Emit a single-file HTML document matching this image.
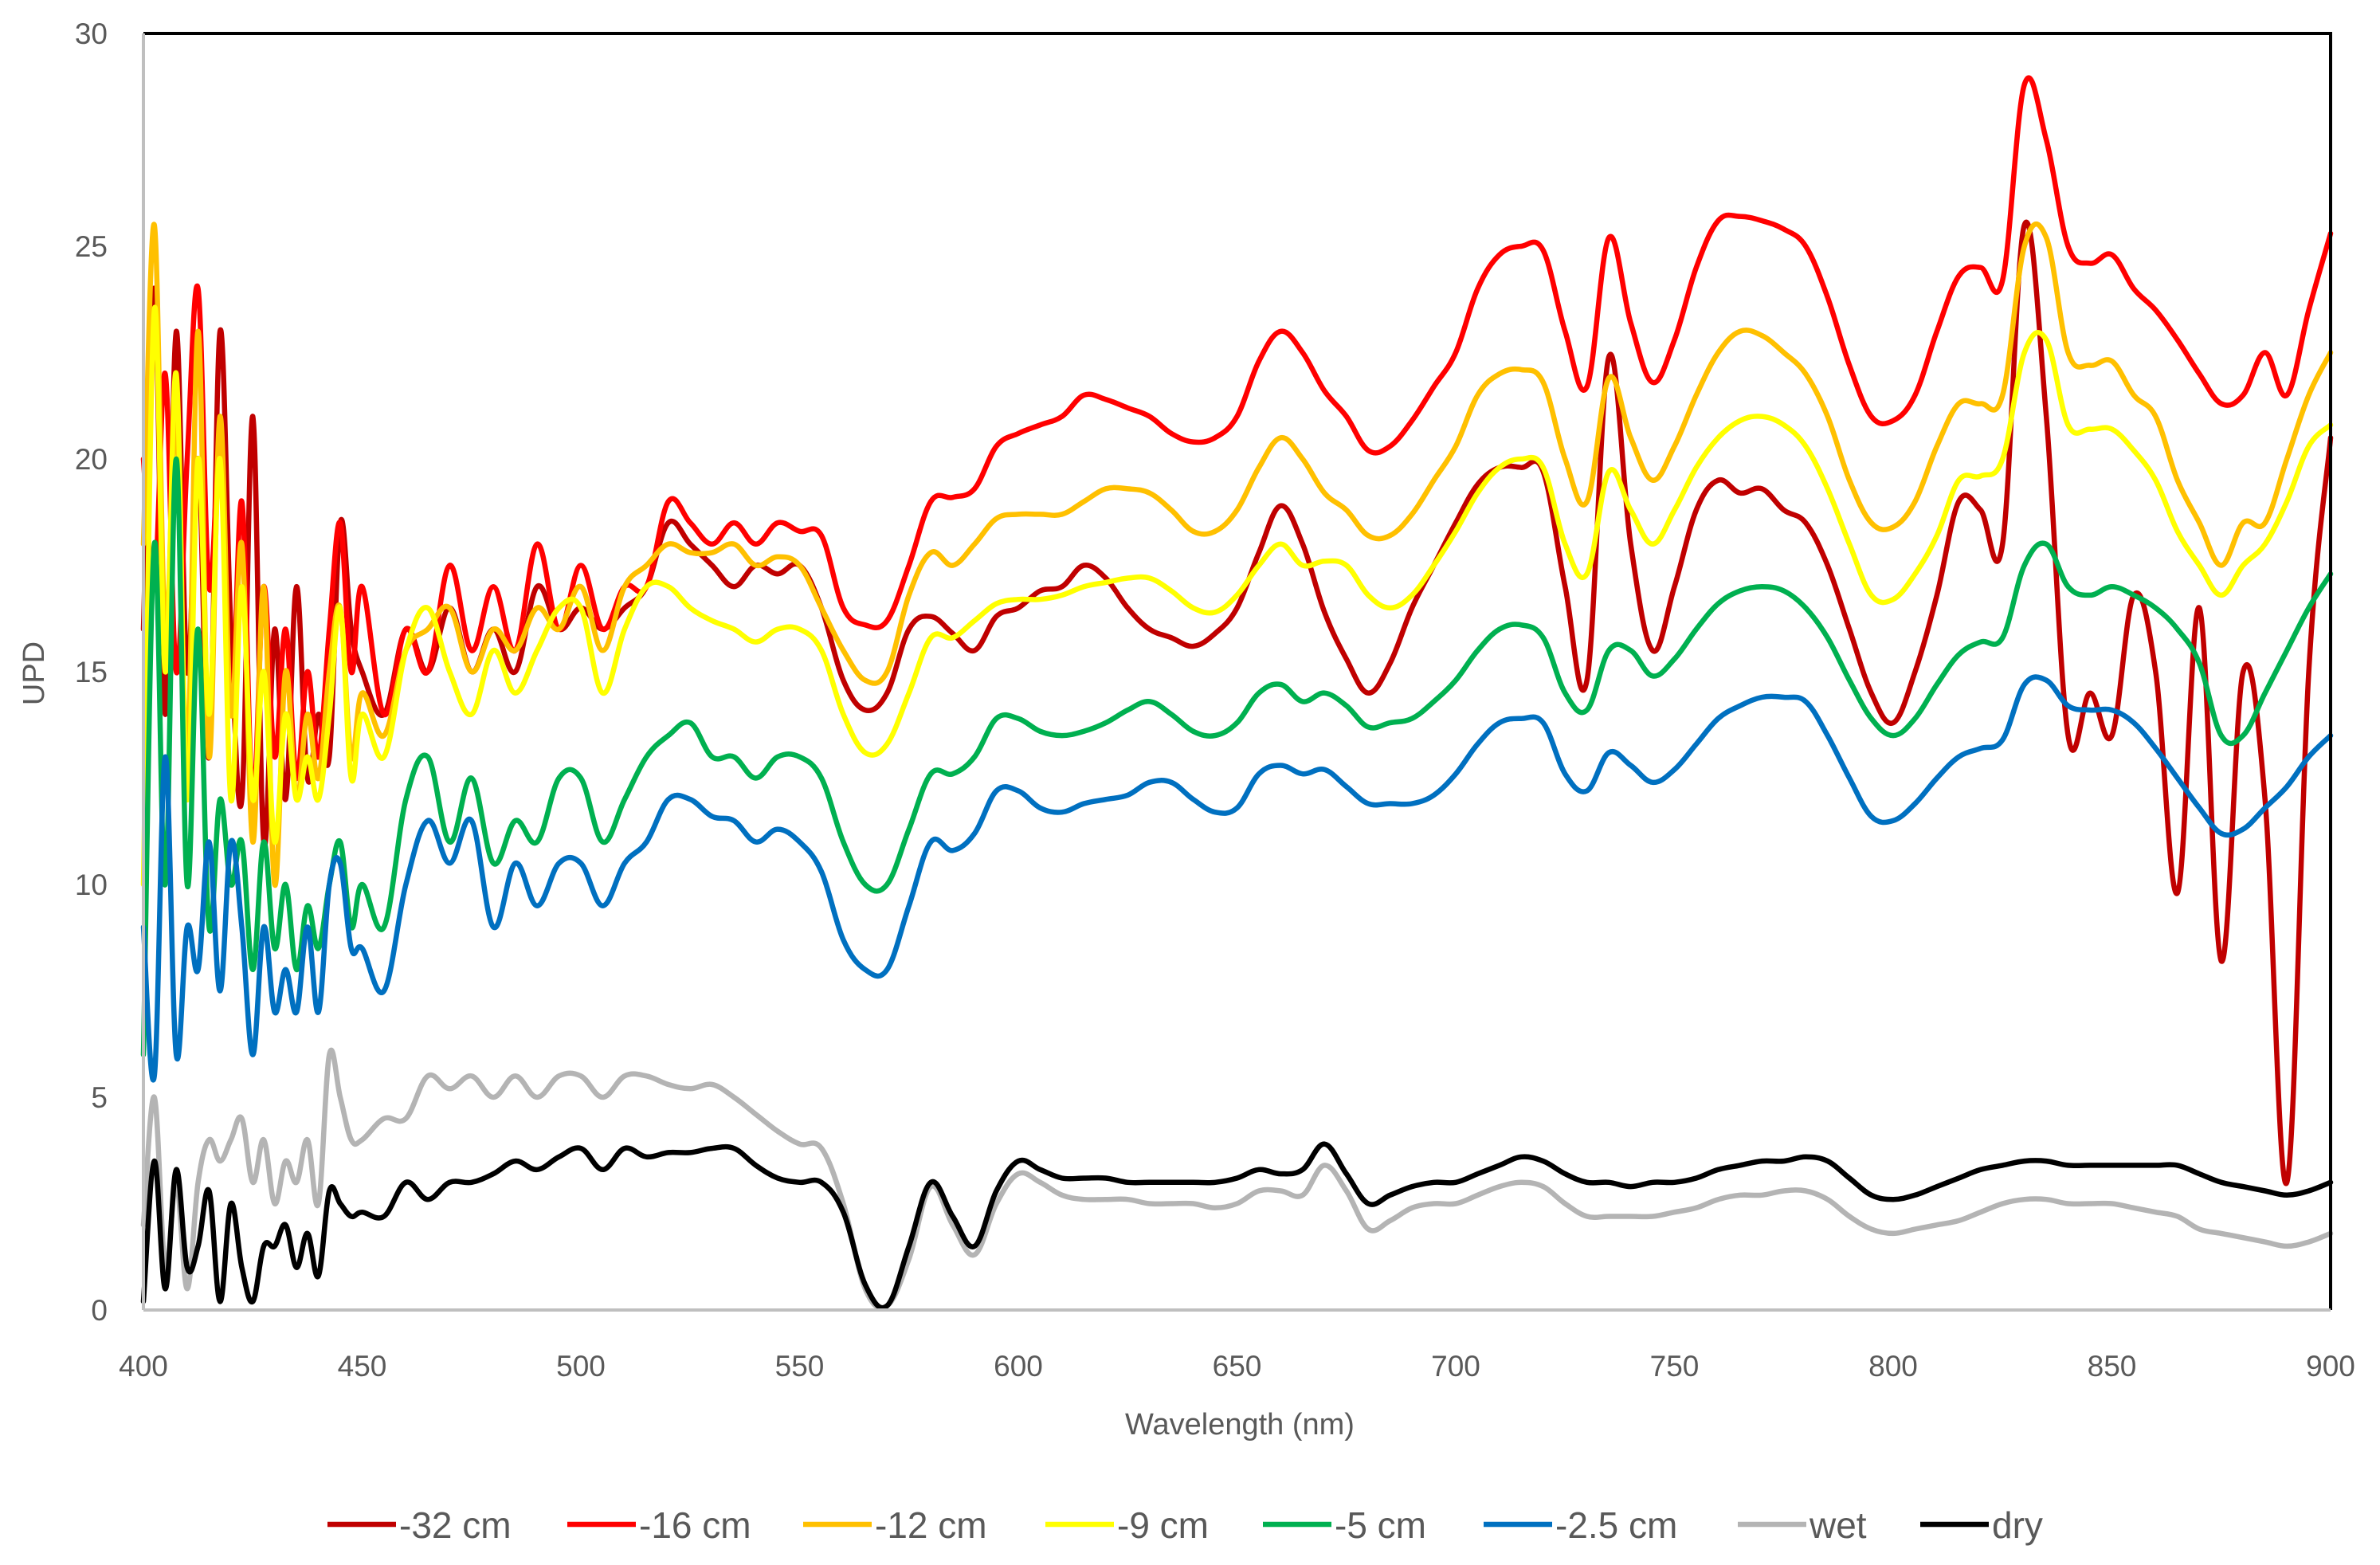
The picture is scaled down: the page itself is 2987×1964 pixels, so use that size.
<!DOCTYPE html>
<html><head><meta charset="utf-8"><style>
html,body{margin:0;padding:0;background:#fff;}
svg{display:block;font-family:"Liberation Sans",sans-serif;}
</style></head><body>
<svg id="chart" width="2987" height="1964" viewBox="0 0 2987 1964" xmlns="http://www.w3.org/2000/svg">
<rect x="0" y="0" width="2987" height="1964" fill="#fff"/>
<g id="plot"></g>
<g id="axes"></g>
<g id="legend"></g>
</svg>
<script>
const xTicks = [400,450,500,550,600,650,700,750,800,850,900];
const yTicks = [0,5,10,15,20,25,30];
const seriesNames = ["-32 cm","-16 cm","-12 cm","-9 cm","-5 cm","-2.5 cm","wet","dry"];
const seriesColors = ["#C00000","#FF0000","#FFC000","#FFFF00","#00B050","#0070C0","#B4B4B4","#000000"];
const wavelengthsFine = [400,402.5,405,407.5,410,412.5,415,417.5,420,422.5,425,427.5,430,432.5,435,437.5,440,442.5,445,447.5,450];
const wavelengthsCoarse = [455,460,465,470,475,480,485,490,495,500,505,510,515,520,525,530,535,540,545,550,555,560,565,570,575,580,585,590,595,600,605,610,615,620,625,630,635,640,645,650,655,660,665,670,675,680,685,690,695,700,705,710,715,720,725,730,735,740,745,750,755,760,765,770,775,780,785,790,795,800,805,810,815,820,825,830,835,840,845,850,855,860,865,870,875,880,885,890,895,900];
const s32 = [16,24,14,23,15,20,13,23,16,12,21,11,16,12,17,12.5,14,13,18.5,16,15,
14,16,15,16.5,15,16,15,17,16,16.5,16,16.5,17,18.5,18,17.5,17,17.5,17.3,17.5,16.5,14.8,14.1,14.5,16,16.3,15.9,15.5,16.3,16.5,16.9,17,17.5,17.2,16.5,16,15.8,15.6,15.9,16.5,17.8,18.9,18,16.4,15.3,14.5,15.2,16.5,17.5,18.5,19.4,19.8,19.8,19.7,17,14.8,22.4,18,15.5,17,18.8,19.5,19.2,19.3,18.8,18.5,17.5,16,14.5,13.8,15,16.8,19,18.8,18,25.5,21,13.5,14.5,13.5,16.8,15,9.8,16.5,8.2,15,12,3,15,20.5];
const s16 = [20,17,22,15,20,24,17,20,14,19,12,17,13,16,12.5,15,13,16,18.5,15,17,
14,16,15,17.5,15.5,17,15.5,18,16,17.5,16,17,17,19,18.5,18,18.5,18,18.5,18.3,18.2,16.5,16.1,16.2,17.5,19,19.1,19.3,20.3,20.6,20.8,21,21.5,21.4,21.2,21,20.6,20.4,20.5,21,22.3,23,22.5,21.6,21,20.2,20.3,20.9,21.7,22.5,24,24.8,25,24.9,23,21.7,25.2,23.2,21.8,22.8,24.5,25.6,25.7,25.6,25.4,25,23.8,22.2,21,20.9,21.5,23,24.3,24.5,24.2,28.8,27.5,25,24.6,24.8,24,23.5,22.8,22,21.3,21.5,22.5,21.5,23.5,25.3];
const s12 = [18,25.5,16,21,13,23,13,21,14,18,11,17,10,15,12,14,12.5,15,16.5,13,14.5,
13.5,15.5,16,16.5,15,16,15.5,16.5,16,17,15.5,17,17.5,18,17.8,17.8,18,17.5,17.7,17.5,16.5,15.5,14.8,15,16.8,17.8,17.5,18,18.6,18.7,18.7,18.7,19,19.3,19.3,19.2,18.8,18.3,18.3,18.8,19.8,20.5,20,19.2,18.8,18.2,18.2,18.7,19.5,20.3,21.5,22,22.1,21.8,20,19,21.9,20.5,19.5,20.3,21.5,22.5,23,22.9,22.5,22,21,19.5,18.5,18.4,19,20.3,21.3,21.3,21.5,25,25.2,22.5,22.2,22.3,21.5,21,19.5,18.5,17.5,18.5,18.5,20,21.5,22.5];
const s9 = [10,23.5,15,22,12,20,14,20,12,17,12,15,11,14,12,13,12,14,16.5,12.5,14,
13,15.5,16.5,15,14,15.5,14.5,15.5,16.5,16.5,14.5,16,17,17,16.5,16.2,16,15.7,16,16,15.5,14,13.1,13.3,14.5,15.8,15.8,16.2,16.6,16.7,16.7,16.8,17,17.1,17.2,17.2,16.9,16.5,16.4,16.8,17.5,18,17.5,17.6,17.5,16.8,16.5,16.8,17.5,18.3,19.2,19.8,20,19.8,18,17.3,19.7,18.8,18,18.8,19.8,20.5,20.9,21,20.8,20.3,19.3,18,16.8,16.7,17.3,18.2,19.5,19.6,20,22.5,22.8,20.8,20.7,20.7,20.2,19.5,18.3,17.5,16.8,17.5,18,19,20.3,20.8];
const s5 = [6,18,10,20,10,16,9,12,10,11,8,11,8.5,10,8,9.5,8.5,10,11,9,10,
9,12,13,11,12.5,10.5,11.5,11,12.5,12.5,11,12,13,13.5,13.8,13,13,12.5,13,13,12.5,11,10,10,11.3,12.6,12.6,13,13.9,13.9,13.6,13.5,13.6,13.8,14.1,14.3,14,13.6,13.5,13.8,14.5,14.7,14.3,14.5,14.2,13.7,13.8,13.9,14.3,14.8,15.5,16,16.1,15.8,14.5,14.1,15.5,15.5,14.9,15.3,16,16.6,16.9,17,16.9,16.5,15.8,14.8,13.9,13.5,13.9,14.7,15.4,15.7,15.8,17.5,18,17,16.8,17,16.8,16.5,16,15.2,13.5,13.5,14.5,15.5,16.5,17.3];
const s25 = [9,5.5,13,6,9,8,11,7.5,11,9,6,9,7,8,7,9,7,10,10.5,8.5,8.5,
7.5,10,11.5,10.5,11.5,9,10.5,9.5,10.5,10.5,9.5,10.5,11,12,12,11.6,11.5,11,11.3,11,10.3,8.7,8,8,9.5,11,10.8,11.2,12.2,12.2,11.8,11.7,11.9,12,12.1,12.4,12.4,12,11.7,11.8,12.6,12.8,12.6,12.7,12.3,11.9,11.9,11.9,12.1,12.6,13.3,13.8,13.9,13.8,12.6,12.2,13.1,12.8,12.4,12.7,13.3,13.9,14.2,14.4,14.4,14.3,13.5,12.5,11.6,11.5,11.9,12.5,13,13.2,13.4,14.7,14.8,14.2,14.1,14.1,13.8,13.2,12.5,11.8,11.2,11.3,11.8,12.3,13,13.5];
const sWet = [2,5,1,3,0.5,3,4,3.5,4,4.5,3,4,2.5,3.5,3,4,2.5,6,5,4,4,
4.5,4.5,5.5,5.2,5.5,5,5.5,5,5.5,5.5,5,5.5,5.5,5.3,5.2,5.3,5,4.6,4.2,3.9,3.8,2.5,0.5,0.1,1.2,2.9,2,1.3,2.5,3.2,3,2.7,2.6,2.6,2.6,2.5,2.5,2.5,2.4,2.5,2.8,2.8,2.7,3.4,2.8,1.9,2.1,2.4,2.5,2.5,2.7,2.9,3,2.9,2.5,2.2,2.2,2.2,2.2,2.3,2.4,2.6,2.7,2.7,2.8,2.8,2.6,2.2,1.9,1.8,1.9,2,2.1,2.3,2.5,2.6,2.6,2.5,2.5,2.5,2.4,2.3,2.2,1.9,1.8,1.7,1.6,1.5,1.6,1.8];
const sDry = [0.2,3.5,0.5,3.3,1,1.5,2.8,0.2,2.5,1,0.2,1.5,1.5,2,1,1.8,0.8,2.8,2.5,2.2,2.3,
2.2,3,2.6,3,3,3.2,3.5,3.3,3.6,3.8,3.3,3.8,3.6,3.7,3.7,3.8,3.8,3.4,3.1,3,3,2.3,0.6,0.1,1.5,3,2.2,1.5,2.8,3.5,3.3,3.1,3.1,3.1,3,3,3,3,3,3.1,3.3,3.2,3.3,3.9,3.2,2.5,2.7,2.9,3,3,3.2,3.4,3.6,3.5,3.2,3,3,2.9,3,3,3.1,3.3,3.4,3.5,3.5,3.6,3.5,3.1,2.7,2.6,2.7,2.9,3.1,3.3,3.4,3.5,3.5,3.4,3.4,3.4,3.4,3.4,3.4,3.2,3,2.9,2.8,2.7,2.8,3];

const NS = "http://www.w3.org/2000/svg";
const L = 180, R = 2925, T = 42, B = 1644;
const xMin = 400, xMax = 900, yMin = 0, yMax = 30;
const wavelengths = wavelengthsFine.concat(wavelengthsCoarse);
const allSeries = [s32, s16, s12, s9, s5, s25, sWet, sDry];
function xScale(v){ return L + (v - xMin) / (xMax - xMin) * (R - L); }
function yScale(v){ return B - (v - yMin) / (yMax - yMin) * (B - T); }
function mk(tag, attrs, parent){
  const e = document.createElementNS(NS, tag);
  for (const k in attrs) e.setAttribute(k, attrs[k]);
  parent.appendChild(e); return e;
}
function smoothPath(p){
  let d = 'M' + p[0][0].toFixed(1) + ',' + p[0][1].toFixed(1);
  const k = 0.18;
  for (let i = 0; i < p.length - 1; i++){
    const p0 = p[Math.max(0, i-1)], p1 = p[i], p2 = p[i+1], p3 = p[Math.min(p.length-1, i+2)];
    const c1x = p1[0] + (p2[0]-p0[0])*k, c1y = p1[1] + (p2[1]-p0[1])*k;
    const c2x = p2[0] - (p3[0]-p1[0])*k, c2y = p2[1] - (p3[1]-p1[1])*k;
    d += 'C' + c1x.toFixed(1)+','+c1y.toFixed(1)+' '+c2x.toFixed(1)+','+c2y.toFixed(1)+' '+p2[0].toFixed(1)+','+p2[1].toFixed(1);
  }
  return d;
}
const plot = document.getElementById('plot');
const axes = document.getElementById('axes');
const legend = document.getElementById('legend');

allSeries.forEach((vals, i) => {
  const pts = vals.map((v, j) => [xScale(wavelengths[j]), yScale(v)]);
  const pl = mk('path', {d: smoothPath(pts), fill: 'none', stroke: seriesColors[i], 'stroke-width': 6.5, 'stroke-linejoin': 'round', 'stroke-linecap': 'round'}, plot);
  
  
});

const fTop = mk('line', {x1: L, y1: T, x2: R + 2, y2: T, stroke: '#000', 'stroke-width': 4}, axes);


const fRight = mk('line', {x1: R, y1: T, x2: R, y2: B, stroke: '#000', 'stroke-width': 4}, axes);


const yAxis = mk('line', {x1: L, y1: T, x2: L, y2: B, stroke: '#BFBFBF', 'stroke-width': 4}, axes);


const xAxis = mk('line', {x1: L, y1: B, x2: R, y2: B, stroke: '#BFBFBF', 'stroke-width': 4}, axes);



xTicks.forEach(t => {
  const tx = mk('text', {x: xScale(t), y: 1727, 'text-anchor': 'middle', 'font-size': 37, fill: '#595959'}, axes);
  tx.textContent = t;
  
  
});
yTicks.forEach(t => {
  const ty = mk('text', {x: 135, y: yScale(t) + 13, 'text-anchor': 'end', 'font-size': 37, fill: '#595959'}, axes);
  ty.textContent = t;
  
  
});
const xt = mk('text', {x: 1556, y: 1800, 'text-anchor': 'middle', 'font-size': 38, fill: '#595959'}, axes);
xt.textContent = 'Wavelength (nm)';


const yt = mk('text', {x: 0, y: 0, 'text-anchor': 'middle', 'font-size': 38, fill: '#595959', transform: 'translate(55,845) rotate(-90)'}, axes);
yt.textContent = 'UPD';



const legX = [411, 712, 1008, 1312, 1585, 1862, 2181, 2410];
seriesNames.forEach((n, i) => {
  const g = mk('g', {}, legend);
  
  
  const ln = mk('line', {x1: legX[i], y1: 1913, x2: legX[i] + 86, y2: 1913, stroke: seriesColors[i], 'stroke-width': 6.5}, g);
  
  
  const tx = mk('text', {x: legX[i] + 90, y: 1930, 'font-size': 46, fill: '#595959'}, g);
  tx.textContent = n;
  
  
});
</script>
</body></html>
